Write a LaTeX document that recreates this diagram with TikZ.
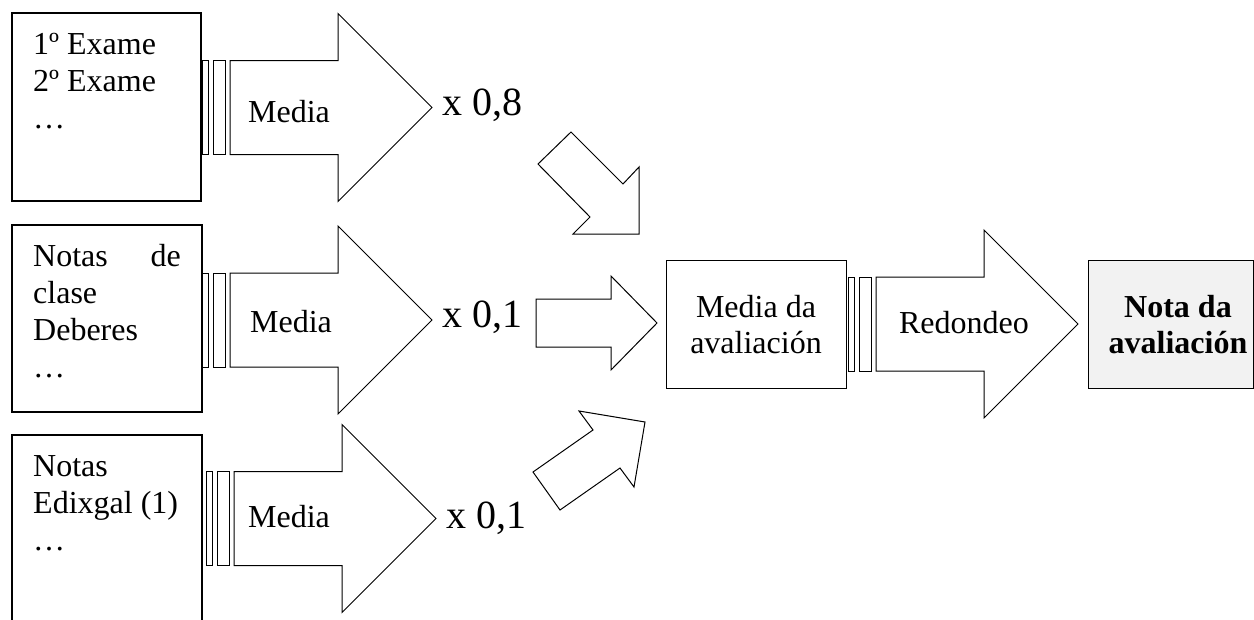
\documentclass[tikz,border=0pt]{standalone}
\usepackage{fontspec}
\setmainfont{Liberation Serif}
\definecolor{notefill}{HTML}{F2F2F2}

% striped block arrow: #1 name of its tip, #2 left x, #3 centre y
\newcommand\StripedArrow[3]{%
  \draw[shape line] (#2,#3-47) rectangle (#2+6,#3+47);
  \draw[shape line] (#2+11,#3-47) rectangle (#2+23,#3+47);
  \draw[shape line] (#2+28,#3-47) -- (#2+136,#3-47) -- (#2+136,#3-94)
    -- (#2+230,#3) -- (#2+136,#3+94) -- (#2+136,#3+47) -- (#2+28,#3+47) -- cycle;
  \coordinate (#1) at (#2+230,#3);
}

\begin{document}
\begin{tikzpicture}[x=1pt,y=-1pt,
  frame/.style={draw=black,line width=1.8pt,inner sep=0pt},
  shape line/.style={draw=black,line width=1pt,fill=white,line join=miter},
  body/.style={font=\fontsize{32}{37}\selectfont,inner sep=0pt},
  factor/.style={font=\fontsize{40}{46}\selectfont,inner sep=0pt}]
\useasboundingbox (0,0) rectangle (1254,619);

% input boxes
\node[frame,minimum width=189pt,minimum height=188pt] (box1) at (106.5,107) {};
\node[frame,minimum width=190pt,minimum height=187pt] (box2) at (107,318.5) {};
\node[frame,minimum width=190pt,minimum height=187pt] (box3) at (107,528.5) {};

\node[body,anchor=base west] (t11) at (33,54) {1º Exame};
\node[body,anchor=base west] (t12) at (33,91) {2º Exame};
\node[body,anchor=base west] (t13) at (33,128) {…};

\node[body,anchor=base west] (t21) at (33,266) {Notas};
\node[body,anchor=base east] (t21b) at (181,266) {de};
\node[body,anchor=base west] (t22) at (33,303) {clase};
\node[body,anchor=base west] (t23) at (33,340) {Deberes};
\node[body,anchor=base west] (t24) at (33,377) {…};

\node[body,anchor=base west] (t31) at (33,476) {Notas};
\node[body,anchor=base west] (t32) at (33,513) {Edixgal (1)};
\node[body,anchor=base west] (t33) at (33,550) {…};

% averaging arrows
\StripedArrow{tip1}{202}{107.5}
\StripedArrow{tip2}{202}{320}
\StripedArrow{tip3}{206}{518.5}

\node[body,anchor=base] (m1) at (289,122) {Media};
\node[body,anchor=base] (m2) at (291,332) {Media};
\node[body,anchor=base] (m3) at (289,527) {Media};

\node[factor,anchor=base west] (f1) at (442,115) {x 0,8};
\node[factor,anchor=base west] (f2) at (442,327) {x 0,1};
\node[factor,anchor=base west] (f3) at (446,528) {x 0,1};

% weighting arrows into the average
\draw[shape line] (571,132) -- (538,164) -- (590,217) -- (573,234)
  -- (639,234) -- (639,167) -- (623,184) -- cycle;
\draw[shape line] (536,299) -- (611,299) -- (611,276) -- (657,323)
  -- (611,370) -- (611,347) -- (536,347) -- cycle;
\draw[shape line] (533,472) -- (560,510) -- (620,468) -- (634,487)
  -- (645,422) -- (579,411) -- (593,430) -- cycle;

% average and rounding
\node[frame,line width=1pt,minimum width=180pt,minimum height=128pt] (avg) at (756,324) {};
\node[body,anchor=base] (a1) at (756,317) {Media da};
\node[body,anchor=base] (a2) at (756,353) {avaliación};

\StripedArrow{tip4}{848}{324}
\node[body,anchor=base] (r) at (964,333) {Redondeo};

\node[frame,line width=1pt,fill=notefill,minimum width=165pt,minimum height=128pt] (final) at (1170.5,324) {};
\node[body,anchor=base,font=\fontsize{32}{37}\selectfont\bfseries] (n1) at (1178,317) {Nota da};
\node[body,anchor=base,font=\fontsize{32}{37}\selectfont\bfseries] (n2) at (1178,353) {avaliación};
\end{tikzpicture}
\end{document}
